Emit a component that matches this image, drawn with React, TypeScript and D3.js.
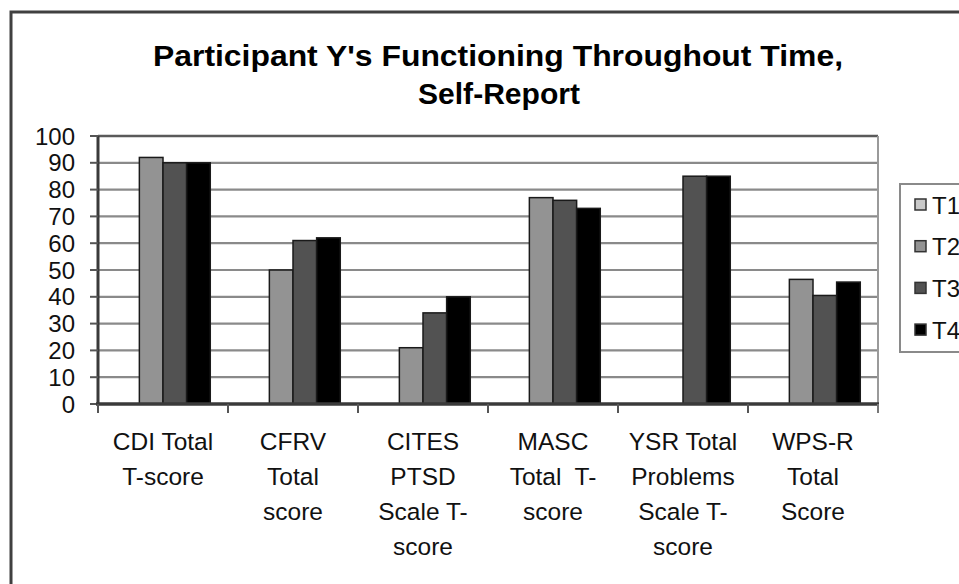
import React from "react";
import * as d3 from "d3";

const categories = [
  "CDI Total T-score",
  "CFRV Total score",
  "CITES PTSD Scale T-score",
  "MASC Total T-score",
  "YSR Total Problems Scale T-score",
  "WPS-R Total Score",
];
const categoryLines = [
  ["CDI Total", "T-score"],
  ["CFRV", "Total", "score"],
  ["CITES", "PTSD", "Scale T-", "score"],
  ["MASC", "Total  T-", "score"],
  ["YSR Total", "Problems", "Scale T-", "score"],
  ["WPS-R", "Total", "Score"],
];
const seriesNames = ["T1", "T2", "T3", "T4"];
const T1: (number | null)[] = [null, null, null, null, null, null];
const T2: (number | null)[] = [92, 50, 21, 77, null, 46.5];
const T3: (number | null)[] = [90, 61, 34, 76, 85, 40.5];
const T4: (number | null)[] = [90, 62, 40, 73, 85, 45.5];
const seriesValues = [T1, T2, T3, T4];
const seriesColors = ["#c9c9c9", "#939393", "#525252", "#000000"];
const yTicks = [0, 10, 20, 30, 40, 50, 60, 70, 80, 90, 100];
const title = ["Participant Y's Functioning Throughout Time,", "Self-Report"];

export default function App() {
  const W = 959;
  const H = 584;
  const left = 98, right = 878, top = 136, bottom = 404;
  const x = d3.scaleBand<string>().domain(categories).range([left, right]).paddingInner(0).paddingOuter(0);
  const xs = d3.scaleBand<string>().domain(seriesNames).range([0, x.bandwidth()]).paddingInner(0).paddingOuter(0.75);
  const y = d3.scaleLinear().domain([0, 100]).range([bottom, top]);
  const font = "'Liberation Sans', Arial, sans-serif";

  return (
    <svg width={W} height={H} style={{ position: "absolute", left: 0, top: 0, background: "#fff" }}>
      <rect x={0} y={0} width={W} height={H} fill="#fff" />
      {/* outer chart border */}
      <rect x={11} y={12} width={1000} height={700} fill="none" stroke="#404040" strokeWidth={3} />
      {/* title */}
      <text x={498} y={66} textAnchor="middle" fontFamily={font} fontWeight="bold" fontSize={30} fill="#000" textLength={690} lengthAdjust="spacingAndGlyphs">{title[0]}</text>
      <text x={499} y={104} textAnchor="middle" fontFamily={font} fontWeight="bold" fontSize={30} fill="#000" textLength={162} lengthAdjust="spacingAndGlyphs">{title[1]}</text>

      {/* gridlines */}
      {yTicks.filter((t) => t > 0 && t < 100).map((t) => (
        <line key={"g" + t} x1={left} x2={right} y1={y(t)} y2={y(t)} stroke="#8a8a8a" strokeWidth={2.2} />
      ))}
      {/* plot area frame */}
      <line x1={left} x2={right} y1={top} y2={top} stroke="#5a5a5a" strokeWidth={2.5} />
      <line x1={right} x2={right} y1={top} y2={bottom} stroke="#9a9a9a" strokeWidth={2} />

      {/* bars */}
      {seriesValues.map((vals, si) =>
        vals.map((v, ci) =>
          v == null ? null : (
            <rect
              key={"b" + si + "-" + ci}
              x={(x(categories[ci]) as number) + (xs(seriesNames[si]) as number)}
              y={y(v)}
              width={xs.bandwidth()}
              height={y(0) - y(v)}
              fill={seriesColors[si]}
              stroke="#1a1a1a"
              strokeWidth={1.5}
            />
          )
        )
      )}

      {/* y axis */}
      <line x1={left} x2={left} y1={top} y2={bottom} stroke="#3a3a3a" strokeWidth={3} />
      {yTicks.map((t) => (
        <g key={"yt" + t}>
          <line x1={90} x2={left} y1={y(t)} y2={y(t)} stroke="#555" strokeWidth={2} />
          <text x={75} y={y(t) + 8.5} textAnchor="end" fontFamily={font} fontSize={24} fill="#111">{t}</text>
        </g>
      ))}
      {/* x axis */}
      <line x1={left - 2} x2={right + 1} y1={bottom} y2={bottom} stroke="#3a3a3a" strokeWidth={3.5} />
      {categories.map((c) => (
        <line key={"xt" + c} x1={x(c) as number} x2={x(c) as number} y1={bottom} y2={bottom + 9} stroke="#555" strokeWidth={2} />
      ))}
      <line x1={right} x2={right} y1={bottom} y2={bottom + 9} stroke="#777" strokeWidth={2} />

      {categories.map((c, ci) => (
        <text key={"cl" + c} textAnchor="middle" fontFamily={font} fontSize={24.5} fill="#111">
          {categoryLines[ci].map((ln, li) => (
            <tspan key={li} x={(x(c) as number) + x.bandwidth() / 2} y={450 + li * 35} style={{ whiteSpace: "pre" }}>{ln}</tspan>
          ))}
        </text>
      ))}

      {/* legend */}
      <rect x={900} y={184} width={120} height={168} fill="#fff" stroke="#8a8a8a" strokeWidth={2} />
      {seriesNames.map((s, i) => {
        const cy = 205 + i * 41.7;
        return (
          <g key={"lg" + s}>
            <rect x={915} y={cy - 6} width={11} height={11} fill={seriesColors[i]} stroke="#333" strokeWidth={1.5} />
            <text x={932} y={cy + 8.5} fontFamily={font} fontSize={24} fill="#111">{s}</text>
          </g>
        );
      })}
    </svg>
  );
}
